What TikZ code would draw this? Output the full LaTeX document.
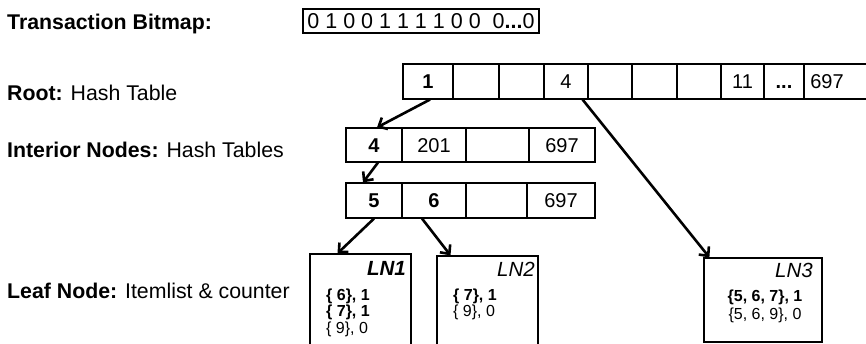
\documentclass[tikz,border=0pt]{standalone}
\usepackage{fontspec}
\setmainfont{Liberation Sans}
\usetikzlibrary{arrows.meta,calc}
\begin{document}
\begin{tikzpicture}[x=1pt,y=-1pt,
  lbl/.style={anchor=base west, inner sep=0pt, font=\fontsize{21.3}{24}\selectfont},
  cell/.style={draw, line width=1.1pt, rectangle, inner sep=0pt, minimum height=35pt, text height=14.3pt, text depth=0pt, font=\fontsize{20}{24}\selectfont},
  leafbox/.style={draw, line width=1.2pt, rectangle, inner sep=0pt},
  lntag/.style={anchor=base east, inner sep=0pt, font=\fontsize{20.5}{24}\selectfont\itshape},
  itemtxt/.style={anchor=base west, inner sep=0pt, font=\fontsize{16}{18}\selectfont},
  itemmid/.style={anchor=base, inner sep=0pt, font=\fontsize{16}{18}\selectfont},
  link/.style={line width=2.6pt, -{Straight Barb[length=7pt,width=13pt]}}
]
\path[use as bounding box] (0,0) rectangle (866,343);
\clip (0,0) rectangle (866,343);

% left labels
\node[lbl] (tb) at (7,29) {\bfseries Transaction Bitmap:};
\node[lbl] (rt) at (7,100.5) {\textbf{Root:} Hash Table};
\node[lbl] (in) at (7,157) {\textbf{Interior Nodes:} Hash Tables};
\node[lbl] (lf) at (7,298) {\textbf{Leaf Node:} Itemlist \& counter};

% bitmap
\node[draw, line width=1.1pt, minimum width=236pt, minimum height=24pt, inner sep=0pt, text height=15pt, text depth=0pt, font=\fontsize{21.5}{24}\selectfont] (bm) at (421,21) {0 1 0 0 1 1 1 1 0 0\ \ 0\textbf{...}0};

% root hash table
\node[cell, minimum width=50pt] (r1) at (428,81.5) {\textbf{1}};
\node[cell, minimum width=46pt] (r2) at (476,81.5) {};
\node[cell, minimum width=45pt] (r3) at (521.5,81.5) {};
\node[cell, minimum width=44pt] (r4) at (566,81.5) {4};
\node[cell, minimum width=44pt] (r5) at (610,81.5) {};
\node[cell, minimum width=45pt] (r6) at (654.5,81.5) {};
\node[cell, minimum width=44pt] (r7) at (699,81.5) {};
\node[cell, minimum width=43pt] (r8) at (742.5,81.5) {11};
\node[cell, minimum width=40pt] (r9) at (784,81.5) {\textbf{...}};
\node[cell, minimum width=76pt] (r10) at (842,81.5) {};
\node[inner sep=0pt, text height=14.3pt, text depth=0pt, font=\fontsize{20}{24}\selectfont] (r10t) at (827,81.5) {697};

% interior table 1
\node[cell, minimum width=56pt, minimum height=34pt] (i1a) at (374,145) {\textbf{4}};
\node[cell, minimum width=64pt, minimum height=34pt] (i1b) at (434,145) {201};
\node[cell, minimum width=63pt, minimum height=34pt] (i1c) at (497.5,145) {};
\node[cell, minimum width=66pt, minimum height=34pt] (i1d) at (562,145) {697};

% interior table 2
\node[cell, minimum width=56pt] (i2a) at (374,200.5) {\textbf{5}};
\node[cell, minimum width=64pt] (i2b) at (434,200.5) {\textbf{6}};
\node[cell, minimum width=61pt] (i2c) at (496.5,200.5) {};
\node[cell, minimum width=68pt] (i2d) at (561,200.5) {697};

% leaf nodes
\node[leafbox, minimum width=101pt, minimum height=106pt] (ln1) at (360.5,307) {};
\node[leafbox, minimum width=101pt, minimum height=104pt] (ln2) at (487.5,308) {};
\node[leafbox, minimum width=118pt, minimum height=84pt] (ln3) at (763,300) {};

\node[lntag, font=\fontsize{20.5}{24}\selectfont\bfseries\itshape] (t1) at (406,275) {LN1};
\node[lntag] (t2) at (535,276) {LN2};
\node[lntag] (t3) at (813,277) {LN3};

\node[itemtxt] (l1a) at (326,300) {\textbf{\{ 6\}, 1}};
\node[itemtxt] (l1b) at (326,316.5) {\textbf{\{ 7\}, 1}};
\node[itemtxt] (l1c) at (326,333) {\{ 9\}, 0};
\node[itemtxt] (l2a) at (453,300) {\textbf{\{ 7\}, 1}};
\node[itemtxt] (l2b) at (453,316.5) {\{ 9\}, 0};
\node[itemmid] (l3a) at (765,301) {\textbf{\{5, 6, 7\}, 1}};
\node[itemmid] (l3b) at (765,319) {\{5, 6, 9\}, 0};

% connectors
\draw[link] ($(r1.south)+(2,0)$) -- ($(i1a.north)+(3,0)$);
\draw[link] ($(r4.south east)+(-6,0)$) -- ($(ln3.north west)+(6,0)$);
\draw[link] ($(i1a.south)+(4,0)$) -- ($(i2a.north)+(-11,0)$);
\draw[link] (i2a.south) -- ($(ln1.north)+(-23,0)$);
\draw[link] ($(i2b.south)+(-12,0)$) -- ($(ln2.north)+(-37,0)$);
\end{tikzpicture}
\end{document}
